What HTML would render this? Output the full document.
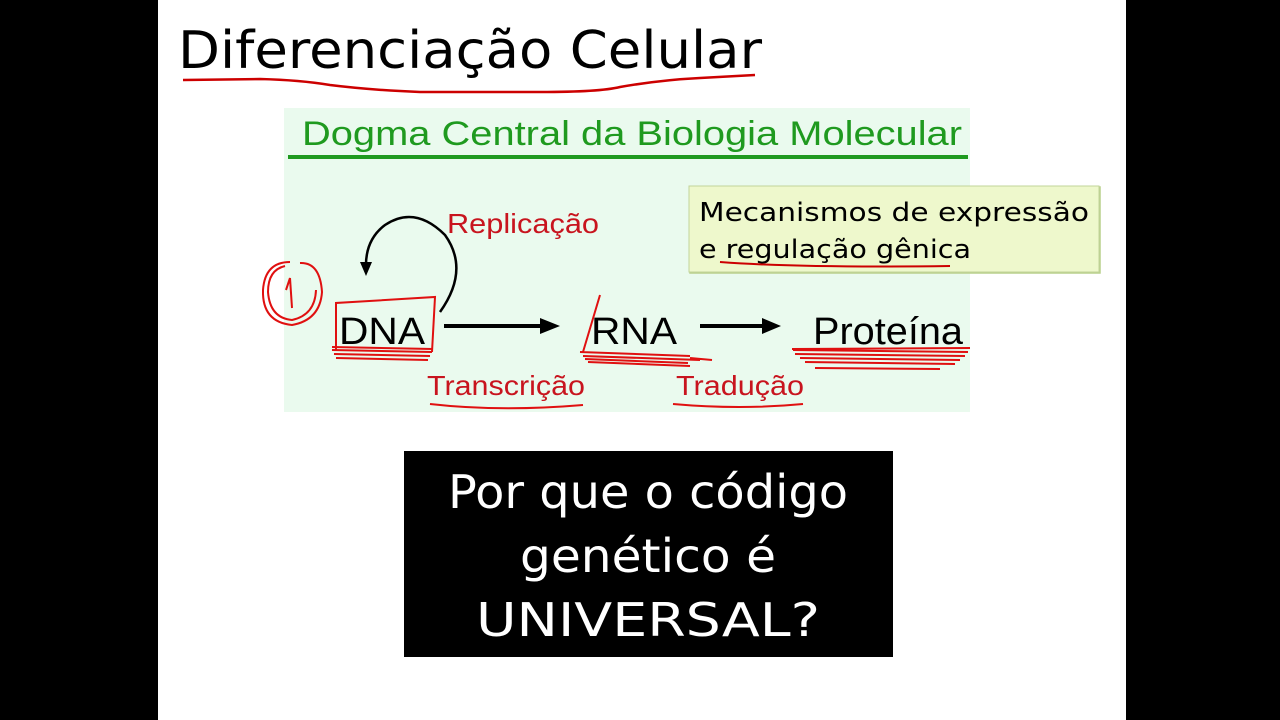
<!DOCTYPE html>
<html><head><meta charset="utf-8"><style>
html,body{margin:0;padding:0;background:#000;width:1280px;height:720px;overflow:hidden}
svg{display:block}
</style></head><body>
<svg width="1280" height="720" viewBox="0 0 1280 720" xmlns="http://www.w3.org/2000/svg">
<rect x="0" y="0" width="1280" height="720" fill="#000"/>
<rect x="158" y="0" width="968" height="720" fill="#fff"/>
<text x="178" y="68" font-family="DejaVu Sans, sans-serif" font-size="52" fill="#000" textLength="584" lengthAdjust="spacingAndGlyphs">Diferenciação Celular</text>
<path d="M183 80 L260 79 Q300 80 330 85 Q370 90 420 92 L540 92 Q600 92 620 87 Q660 80 700 78 L755 75" stroke="#c00" stroke-width="2.5" fill="none"/>
<rect x="284" y="108" width="686" height="304" fill="#eafaee"/>
<text x="302" y="145" font-family="Liberation Sans, sans-serif" font-size="34" fill="#1f9a1f" textLength="660" lengthAdjust="spacingAndGlyphs">Dogma Central da Biologia Molecular</text>
<rect x="288" y="155" width="680" height="4" fill="#1f9a1f"/>
<rect x="690" y="187" width="410" height="86" fill="#ecf8c8" stroke="#b9d08c" stroke-width="1.5"/>
<rect x="689" y="186" width="410" height="86" fill="#eef8cc" stroke="#c2d49a" stroke-width="1"/>
<text x="699" y="221" font-family="DejaVu Sans, sans-serif" font-size="26" fill="#000" textLength="390" lengthAdjust="spacingAndGlyphs">Mecanismos de expressão</text>
<text x="699" y="258" font-family="DejaVu Sans, sans-serif" font-size="26" fill="#000" textLength="272" lengthAdjust="spacingAndGlyphs">e regulação gênica</text>
<path d="M720 262 Q800 268 950 266" stroke="#c00" stroke-width="2" fill="none"/>
<text x="447" y="233" font-family="Liberation Sans, sans-serif" font-size="28" fill="#c8141e" textLength="152" lengthAdjust="spacingAndGlyphs">Replicação</text>
<path d="M440 312 Q470 270 445 235 Q415 205 385 225 Q365 240 366 268" stroke="#000" stroke-width="2.5" fill="none"/>
<path d="M360 262 L366 276 L372 262 Z" fill="#000"/>
<text x="339" y="344" font-family="Liberation Sans, sans-serif" font-size="38" fill="#000" textLength="86" lengthAdjust="spacingAndGlyphs">DNA</text>
<text x="591" y="344" font-family="Liberation Sans, sans-serif" font-size="38" fill="#000" textLength="86" lengthAdjust="spacingAndGlyphs">RNA</text>
<text x="813" y="344" font-family="Liberation Sans, sans-serif" font-size="38" fill="#000" textLength="150" lengthAdjust="spacingAndGlyphs">Proteína</text>
<line x1="444" y1="326" x2="545" y2="326" stroke="#000" stroke-width="4"/>
<path d="M540 318 L560 326 L540 334 Z" fill="#000"/>
<line x1="700" y1="326" x2="765" y2="326" stroke="#000" stroke-width="4"/>
<path d="M762 318 L781 326 L762 334 Z" fill="#000"/>
<text x="427" y="395" font-family="Liberation Sans, sans-serif" font-size="28" fill="#c8141e" textLength="158" lengthAdjust="spacingAndGlyphs">Transcrição</text>
<text x="676" y="395" font-family="Liberation Sans, sans-serif" font-size="28" fill="#c8141e" textLength="128" lengthAdjust="spacingAndGlyphs">Tradução</text>
<g stroke="#e01010" fill="none" stroke-width="2">
<path d="M336 350 L336 303 L435 297 L432 352"/>
<path d="M332 350 L432 352 M334 354 L430 356 M336 358 L428 360 M332 347 L433 349"/>
<path d="M600 295 L583 352 M580 352 L690 356 M583 356 L700 360 M585 359 L688 363 M588 362 L690 366 M690 358 L712 360"/>
<path d="M793 350 L968 352 M795 354 L965 356 M800 358 L960 360 M805 362 L955 364 M815 368 L940 369 M792 349 L970 348"/>
<path d="M430 404 Q500 412 583 405"/>
<path d="M673 404 Q740 410 803 404"/>
<path d="M290 262 Q265 262 263 290 Q262 322 292 325 Q320 320 322 292 Q320 262 300 263"/>
<path d="M285 266 Q268 270 268 292 Q270 318 292 320 Q315 315 316 290"/>
<path d="M290 278 L286 290 M290 278 L292 308"/>
</g>
<rect x="404" y="451" width="489" height="206" fill="#000"/>
<g font-family="DejaVu Sans, sans-serif" font-size="46" fill="#fff" text-anchor="middle">
<text x="648" y="508" textLength="400" lengthAdjust="spacingAndGlyphs">Por que o código</text>
<text x="648" y="572" textLength="256" lengthAdjust="spacingAndGlyphs">genético é</text>
<text x="648" y="636" textLength="344" lengthAdjust="spacingAndGlyphs">UNIVERSAL?</text>
</g>
</svg>
</body></html>
